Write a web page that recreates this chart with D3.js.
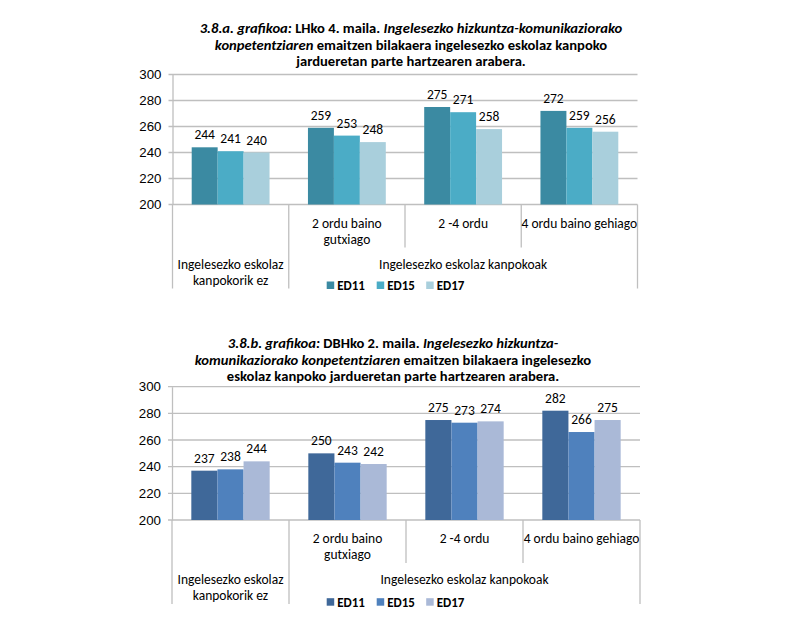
<!DOCTYPE html>
<html>
<head>
<meta charset="utf-8">
<script src="https://cdn.jsdelivr.net/npm/d3@7"></script>
<style>
  html, body { margin: 0; padding: 0; background: #fff; }
  svg { display: block; font-family: Carlito, Calibri, Lato, sans-serif; }
</style>
</head>
<body>
<svg id="chart" width="785" height="641"></svg>
<script>
// ---- Data ----
const series = ["ED11", "ED15", "ED17"];
const subcategories = [[], ["2 ordu baino", "gutxiago"], ["2 -4 ordu"], ["4 ordu baino gehiago"]];
const groupLabels = [["Ingelesezko eskolaz", "kanpokorik ez"], ["Ingelesezko eskolaz kanpokoak"]];
const groupSpans = [[0, 0], [1, 3]];
const yTicks = [200, 220, 240, 260, 280, 300];

const valuesA_ED11 = [244, 259, 275, 272];
const valuesA_ED15 = [241, 253, 271, 259];
const valuesA_ED17 = [240, 248, 258, 256];

const valuesB_ED11 = [237, 250, 275, 282];
const valuesB_ED15 = [238, 243, 273, 266];
const valuesB_ED17 = [244, 242, 274, 275];

const titleA = [
  [["3.8.a. grafikoa:", true], [" LHko 4. maila. ", false], ["Ingelesezko hizkuntza-komunikaziorako", true]],
  [["konpetentziaren", true], [" emaitzen bilakaera ingelesezko eskolaz kanpoko", false]],
  [["jardueretan parte hartzearen arabera.", false]]
];
const titleB = [
  [["3.8.b. grafikoa:", true], [" DBHko 2. maila. ", false], ["Ingelesezko hizkuntza-", true]],
  [["komunikaziorako konpetentziaren", true], [" emaitzen bilakaera ingelesezko", false]],
  [["eskolaz kanpoko jardueretan parte hartzearen arabera.", false]]
];

const colorsA = ["#3b8aa2", "#4bacc6", "#a9cfdc"];
const colorsB = ["#3f6899", "#4f81bd", "#aab9d7"];

const svg = d3.select("#chart");
const gridColor = "#bfbfbf";

function drawChart(cfg) {
  const g = svg.append("g");
  const cats = d3.range(subcategories.length);
  const x0 = d3.scaleBand().domain(cats).range([cfg.left, cfg.right]).paddingInner(0).paddingOuter(0);
  const x1 = d3.scaleBand().domain(series).range([0, x0.bandwidth()]).paddingInner(0).paddingOuter(0.74);
  const y = d3.scaleLinear().domain([200, 300]).range([cfg.bottom, cfg.top]);

  // title
  const t = g.append("text").attr("text-anchor", "middle").attr("font-size", 14.6)
    .attr("font-weight", "bold").attr("fill", "#000");
  cfg.title.forEach((line, i) => {
    const tl = t.append("tspan").attr("x", cfg.titleX).attr("y", cfg.titleY + i * 16.7);
    line.forEach(([txt, it]) => {
      tl.append("tspan").attr("font-style", it ? "italic" : "normal").text(txt);
    });
  });

  // gridlines
  g.append("g").selectAll("line").data(yTicks).join("line")
    .attr("x1", cfg.left - 4).attr("x2", cfg.right)
    .attr("y1", d => y(d)).attr("y2", d => y(d))
    .attr("stroke", gridColor).attr("stroke-width", 1.3);

  // y axis
  const yAxis = d3.axisLeft(y).tickValues(yTicks).tickSize(0).tickPadding(11);
  const ya = g.append("g").attr("transform", `translate(${cfg.left},0)`).call(yAxis);
  ya.select(".domain").attr("stroke", gridColor).attr("stroke-width", 1.3);
  ya.selectAll("text").attr("font-size", 13.3).attr("fill", "#000").attr("font-family", null);

  // bars
  const data = cfg.values;
  const bars = g.append("g");
  cats.forEach(ci => {
    series.forEach((s, si) => {
      const v = data[si][ci];
      bars.append("rect")
        .attr("x", x0(ci) + x1(s))
        .attr("y", y(v))
        .attr("width", x1.bandwidth())
        .attr("height", y(200) - y(v))
        .attr("fill", cfg.colors[si]);
      bars.append("text")
        .attr("x", x0(ci) + x1(s) + x1.bandwidth() / 2)
        .attr("y", y(v) - 8)
        .attr("text-anchor", "middle").attr("font-size", 13.5).attr("fill", "#000")
        .text(v);
    });
  });

  // category separators below axis
  const bounds = cats.map(c => x0(c)).concat([cfg.right]);
  const outer = new Set([0, groupSpans[1][0], bounds.length - 1]);
  g.append("g").selectAll("line").data(bounds).join("line")
    .attr("x1", d => d).attr("x2", d => d)
    .attr("y1", cfg.bottom)
    .attr("y2", (d, i) => outer.has(i) ? cfg.bottom + cfg.outerLen : cfg.bottom + cfg.innerLen)
    .attr("stroke", gridColor).attr("stroke-width", 1.3);

  // subcategory labels
  cats.forEach(ci => {
    const tx = g.append("text").attr("text-anchor", "middle").attr("font-size", 13.5).attr("fill", "#000");
    subcategories[ci].forEach((ln, li) => {
      tx.append("tspan").attr("x", x0(ci) + x0.bandwidth() / 2)
        .attr("y", cfg.bottom + 23 + li * 16).text(ln);
    });
  });

  // group labels
  groupLabels.forEach((lines, gi) => {
    const [a, b] = groupSpans[gi];
    const cx = (x0(a) + x0(b) + x0.bandwidth()) / 2;
    const tx = g.append("text").attr("text-anchor", "middle").attr("font-size", 13.5).attr("fill", "#000");
    lines.forEach((ln, li) => {
      tx.append("tspan").attr("x", cx).attr("y", cfg.bottom + 64 + li * 16).text(ln);
    });
  });

  // legend
  const lg = g.append("g").attr("transform", `translate(${cfg.legendX},${cfg.legendY})`);
  const lgX = d3.scaleOrdinal().domain(series).range([0, 50, 99.5]);
  series.forEach((s, si) => {
    lg.append("rect").attr("x", lgX(s)).attr("y", -3.5).attr("width", 7.5).attr("height", 7.5)
      .attr("fill", cfg.colors[si]);
    lg.append("text").attr("x", lgX(s) + 10.5).attr("y", 4.8)
      .attr("font-size", 13).attr("font-weight", "bold").attr("fill", "#000").text(s);
  });
}

drawChart({
  left: 172.5, right: 637.5, top: 74.5, bottom: 204.5,
  innerLen: 43, outerLen: 84,
  title: titleA, titleX: 411, titleY: 33,
  values: [valuesA_ED11, valuesA_ED15, valuesA_ED17],
  colors: colorsA, legendX: 326.7, legendY: 285
});

drawChart({
  left: 172, right: 640, top: 386.7, bottom: 520,
  innerLen: 43, outerLen: 84,
  title: titleB, titleX: 393, titleY: 348,
  values: [valuesB_ED11, valuesB_ED15, valuesB_ED17],
  colors: colorsB, legendX: 326.7, legendY: 601.7
});
</script>
</body>
</html>
